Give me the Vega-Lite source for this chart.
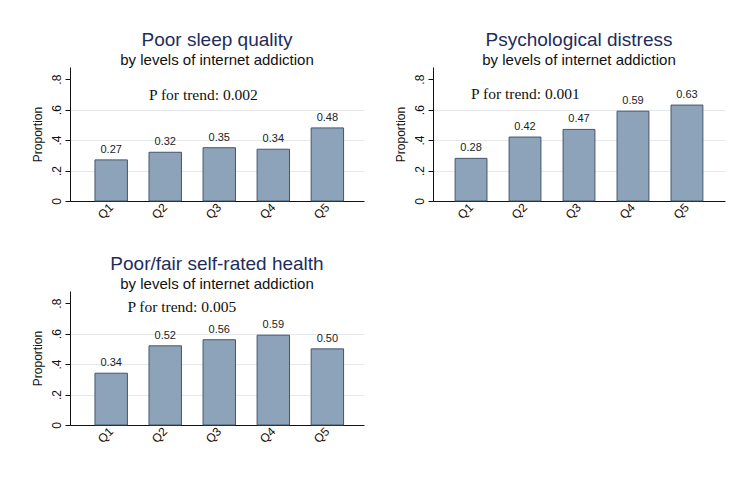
{
  "$schema": "https://vega.github.io/schema/vega-lite/v6.json",
  "background": "white",
  "padding": {"left": 31, "top": 31, "right": 5, "bottom": 5},
  "datasets": {
    "bars": [
      {"outcome": "sleep", "quintile": "Q1", "proportion": 0.27},
      {"outcome": "sleep", "quintile": "Q2", "proportion": 0.32},
      {"outcome": "sleep", "quintile": "Q3", "proportion": 0.35},
      {"outcome": "sleep", "quintile": "Q4", "proportion": 0.34},
      {"outcome": "sleep", "quintile": "Q5", "proportion": 0.48},
      {"outcome": "distress", "quintile": "Q1", "proportion": 0.28},
      {"outcome": "distress", "quintile": "Q2", "proportion": 0.42},
      {"outcome": "distress", "quintile": "Q3", "proportion": 0.47},
      {"outcome": "distress", "quintile": "Q4", "proportion": 0.59},
      {"outcome": "distress", "quintile": "Q5", "proportion": 0.63},
      {"outcome": "health", "quintile": "Q1", "proportion": 0.34},
      {"outcome": "health", "quintile": "Q2", "proportion": 0.52},
      {"outcome": "health", "quintile": "Q3", "proportion": 0.56},
      {"outcome": "health", "quintile": "Q4", "proportion": 0.59},
      {"outcome": "health", "quintile": "Q5", "proportion": 0.50}
    ],
    "notes": [
      {"outcome": "sleep", "anchor": "Q2", "proportion": 0.695, "note": "P for trend: 0.002"},
      {"outcome": "distress", "anchor": "Q1", "proportion": 0.70, "note": "P for trend: 0.001"},
      {"outcome": "health", "anchor": "Q1", "proportion": 0.775, "note": "P for trend: 0.005"}
    ]
  },
  "columns": 2,
  "spacing": {"row": 34, "column": 30},
  "concat": [
    {
      "width": 294, "height": 134,
      "title": {"text": "Poor sleep quality", "subtitle": "by levels of internet addiction", "offset": -1, "subtitlePadding": 3},
      "encoding": {
        "x": {"field": "quintile", "type": "nominal", "scale": {"domain": ["Q1", "Q2", "Q3", "Q4", "Q5"], "paddingInner": 0.4, "paddingOuter": 0.42, "align": 0.55}, "axis": {"title": null, "labelAngle": -45, "labelAlign": "right", "labelBaseline": "middle", "ticks": false, "labelFontSize": 12, "labelPadding": 4}},
        "y": {"field": "proportion", "type": "quantitative", "scale": {"domain": [0, 0.88], "nice": false}, "axis": {"title": "Proportion", "values": [0, 0.2, 0.4, 0.6, 0.8], "labelOverlap": false, "labelExpr": "datum.value == 0 ? '0' : replace(format(datum.value, '.1f'), '0.', '.')", "labelAngle": -90, "grid": true, "gridOpacity": {"condition": {"test": "datum.value > 0.7 || datum.value < 0.1", "value": 0}, "value": 1}}}
      },
      "layer": [
        {
          "data": {"name": "bars"},
          "transform": [{"filter": "datum.outcome == 'sleep'"}],
          "mark": {"type": "bar", "fill": "#8da3b9", "stroke": "#45566b", "strokeWidth": 1}
        },
        {
          "data": {"name": "bars"},
          "transform": [{"filter": "datum.outcome == 'sleep'"}],
          "mark": {"type": "text", "baseline": "bottom", "dy": -5, "fontSize": 11, "color": "#222222", "font": "Liberation Sans"},
          "encoding": {
            "text": {"field": "proportion", "type": "quantitative", "format": ".2f"}
          }
        },
        {
          "data": {"name": "notes"},
          "transform": [{"filter": "datum.outcome == 'sleep'"}],
          "mark": {"type": "text", "align": "left", "baseline": "middle", "fontSize": 15.5, "font": "Liberation Serif", "color": "#111111"},
          "encoding": {
            "x": {"field": "anchor", "type": "nominal", "bandPosition": 0},
            "text": {"field": "note"}
          }
        }
      ]
    },
    {
      "width": 292, "height": 134,
      "title": {"text": "Psychological distress", "subtitle": "by levels of internet addiction", "offset": -1, "subtitlePadding": 3},
      "encoding": {
        "x": {"field": "quintile", "type": "nominal", "scale": {"domain": ["Q1", "Q2", "Q3", "Q4", "Q5"], "paddingInner": 0.41, "paddingOuter": 0.41, "align": 0.5}, "axis": {"title": null, "labelAngle": -45, "labelAlign": "right", "labelBaseline": "middle", "ticks": false, "labelFontSize": 12, "labelPadding": 4}},
        "y": {"field": "proportion", "type": "quantitative", "scale": {"domain": [0, 0.88], "nice": false}, "axis": {"title": "Proportion", "values": [0, 0.2, 0.4, 0.6, 0.8], "labelOverlap": false, "labelExpr": "datum.value == 0 ? '0' : replace(format(datum.value, '.1f'), '0.', '.')", "labelAngle": -90, "grid": true, "gridOpacity": {"condition": {"test": "datum.value > 0.7 || datum.value < 0.1", "value": 0}, "value": 1}}}
      },
      "layer": [
        {
          "data": {"name": "bars"},
          "transform": [{"filter": "datum.outcome == 'distress'"}],
          "mark": {"type": "bar", "fill": "#8da3b9", "stroke": "#45566b", "strokeWidth": 1}
        },
        {
          "data": {"name": "bars"},
          "transform": [{"filter": "datum.outcome == 'distress'"}],
          "mark": {"type": "text", "baseline": "bottom", "dy": -5, "fontSize": 11, "color": "#222222", "font": "Liberation Sans"},
          "encoding": {
            "text": {"field": "proportion", "type": "quantitative", "format": ".2f"}
          }
        },
        {
          "data": {"name": "notes"},
          "transform": [{"filter": "datum.outcome == 'distress'"}],
          "mark": {"type": "text", "align": "left", "baseline": "middle", "fontSize": 15.5, "font": "Liberation Serif", "color": "#111111"},
          "encoding": {
            "x": {"field": "anchor", "type": "nominal", "bandPosition": 0.5},
            "text": {"field": "note"}
          }
        }
      ]
    },
    {
      "width": 294, "height": 134,
      "title": {"text": "Poor/fair self-rated health", "subtitle": "by levels of internet addiction", "offset": -1, "subtitlePadding": 3},
      "encoding": {
        "x": {"field": "quintile", "type": "nominal", "scale": {"domain": ["Q1", "Q2", "Q3", "Q4", "Q5"], "paddingInner": 0.4, "paddingOuter": 0.42, "align": 0.55}, "axis": {"title": null, "labelAngle": -45, "labelAlign": "right", "labelBaseline": "middle", "ticks": false, "labelFontSize": 12, "labelPadding": 4}},
        "y": {"field": "proportion", "type": "quantitative", "scale": {"domain": [0, 0.88], "nice": false}, "axis": {"title": "Proportion", "values": [0, 0.2, 0.4, 0.6, 0.8], "labelOverlap": false, "labelExpr": "datum.value == 0 ? '0' : replace(format(datum.value, '.1f'), '0.', '.')", "labelAngle": -90, "grid": true, "gridOpacity": {"condition": {"test": "datum.value > 0.7 || datum.value < 0.1", "value": 0}, "value": 1}}}
      },
      "layer": [
        {
          "data": {"name": "bars"},
          "transform": [{"filter": "datum.outcome == 'health'"}],
          "mark": {"type": "bar", "fill": "#8da3b9", "stroke": "#45566b", "strokeWidth": 1}
        },
        {
          "data": {"name": "bars"},
          "transform": [{"filter": "datum.outcome == 'health'"}],
          "mark": {"type": "text", "baseline": "bottom", "dy": -5, "fontSize": 11, "color": "#222222", "font": "Liberation Sans"},
          "encoding": {
            "text": {"field": "proportion", "type": "quantitative", "format": ".2f"}
          }
        },
        {
          "data": {"name": "notes"},
          "transform": [{"filter": "datum.outcome == 'health'"}],
          "mark": {"type": "text", "align": "left", "baseline": "middle", "fontSize": 15.5, "font": "Liberation Serif", "color": "#111111"},
          "encoding": {
            "x": {"field": "anchor", "type": "nominal", "bandPosition": 1},
            "text": {"field": "note"}
          }
        }
      ]
    }
  ],
  "config": {
    "font": "Liberation Sans",
    "view": {"stroke": null},
    "title": {"font": "Liberation Sans", "fontSize": 19, "fontWeight": "normal", "color": "#1e2d5c", "anchor": "middle", "subtitleFont": "Liberation Sans", "subtitleFontSize": 15, "subtitleColor": "#111111"},
    "axis": {"domainColor": "#111111", "tickColor": "#111111", "labelColor": "#111111", "titleColor": "#111111", "labelFont": "Liberation Sans", "titleFont": "Liberation Sans", "titleFontWeight": "normal", "titleFontSize": 12, "labelFontSize": 12, "gridColor": "#e4e8ea", "tickSize": 5, "labelPadding": 2, "titlePadding": 6}
  }
}
